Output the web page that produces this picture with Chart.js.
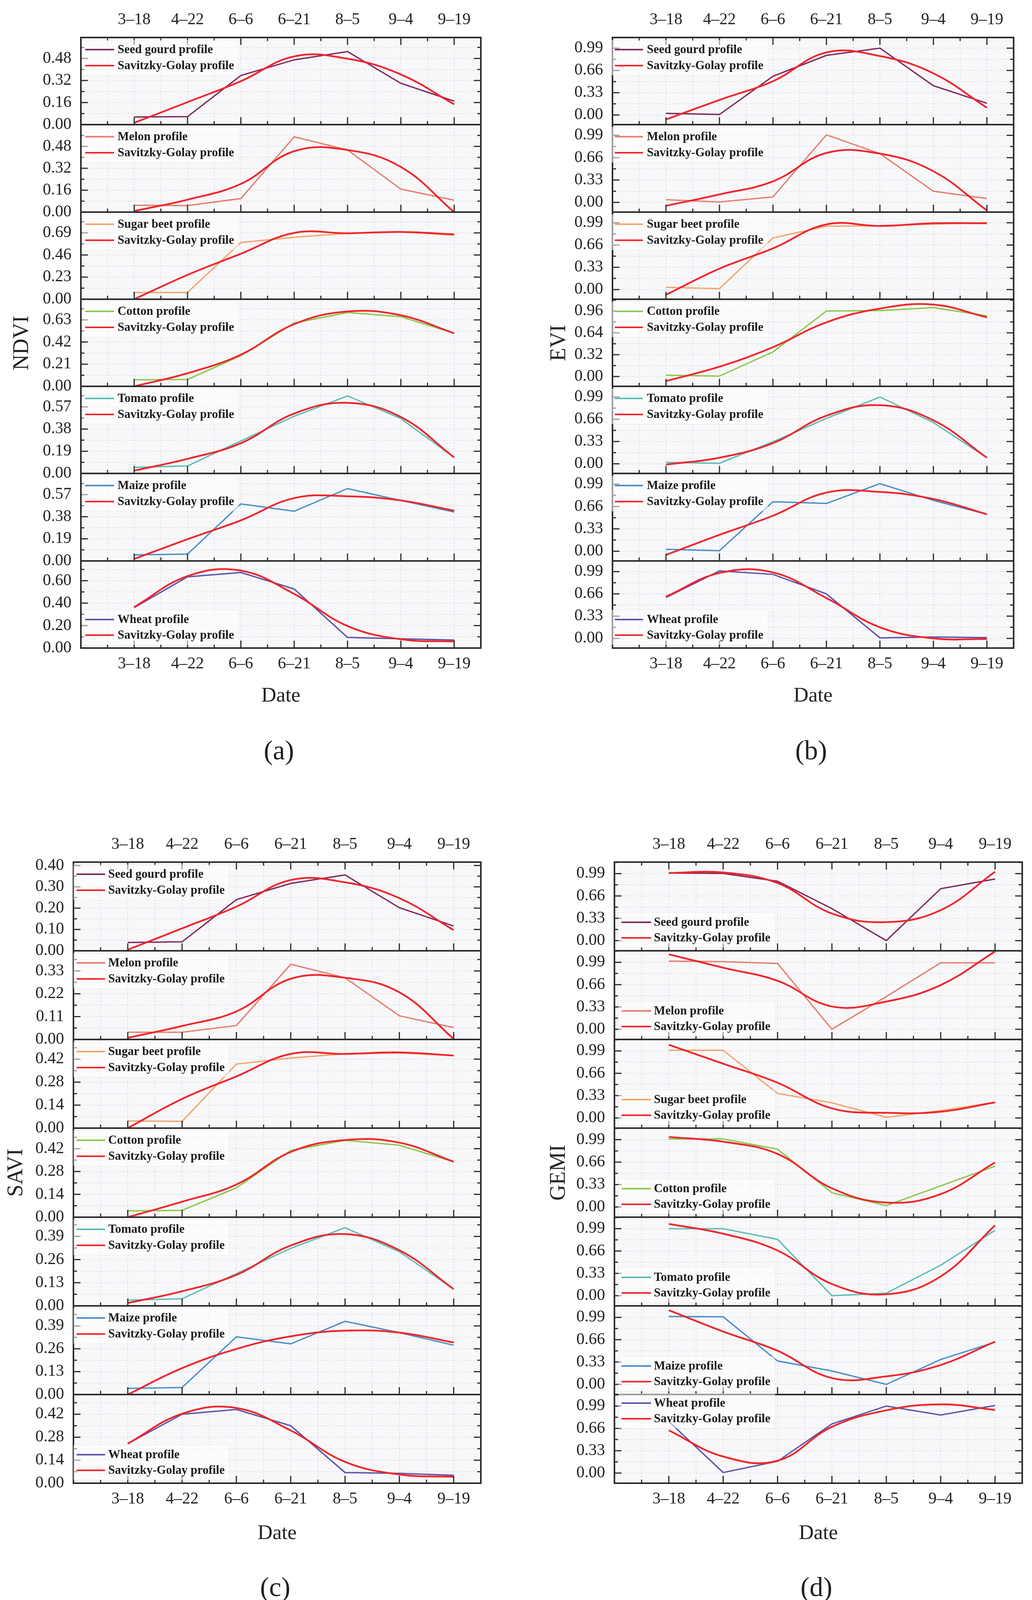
<!DOCTYPE html>
<html>
<head>
<meta charset="utf-8">
<script src="https://cdn.jsdelivr.net/npm/chart.js@4.4.0/dist/chart.umd.min.js"></script>
<style>
  html, body { margin: 0; padding: 0; background: #fff; }
  #page { position: relative; width: 2642px; height: 4128px; overflow: hidden;
          font-family: 'Liberation Serif', 'Times New Roman', serif; color: #222; }
  #page canvas { position: absolute; }
  .lbl { position: absolute; transform: translate(-50%, -50%); line-height: 1; white-space: nowrap; }
  .ytitle { transform: translate(-50%, -50%) rotate(-90deg); }
</style>
</head>
<body>
<div id="page"></div>
<script>
// ---- data ----
const dates = ['3–18', '4–22', '6–6', '6–21', '8–5', '9–4', '9–19'];
const crops = ['Seed gourd', 'Melon', 'Sugar beet', 'Cotton', 'Tomato', 'Maize', 'Wheat'];

const ndviCrop = [
  [0.055, 0.058, 0.356, 0.470, 0.530, 0.300, 0.170],
  [0.050, 0.048, 0.099, 0.550, 0.454, 0.168, 0.087],
  [0.070, 0.070, 0.590, 0.644, 0.686, 0.700, 0.667],
  [0.062, 0.065, 0.290, 0.600, 0.700, 0.660, 0.503],
  [0.052, 0.064, 0.278, 0.490, 0.664, 0.470, 0.137],
  [0.052, 0.059, 0.490, 0.427, 0.622, 0.520, 0.420],
  [0.360, 0.634, 0.673, 0.526, 0.095, 0.083, 0.071]
];
const ndviSG = [
  [0.013, 0.163, 0.315, 0.495, 0.478, 0.364, 0.147],
  [0.008, 0.091, 0.206, 0.445, 0.454, 0.330, 0.000],
  [0.000, 0.253, 0.473, 0.690, 0.686, 0.700, 0.674],
  [0.000, 0.124, 0.300, 0.590, 0.710, 0.674, 0.503],
  [0.024, 0.125, 0.259, 0.513, 0.605, 0.483, 0.137],
  [0.017, 0.187, 0.349, 0.540, 0.556, 0.520, 0.432],
  [0.365, 0.641, 0.690, 0.482, 0.196, 0.078, 0.059]
];
const ndviTicks = [[0, 0.16, 0.32, 0.48], [0, 0.16, 0.32, 0.48], [0, 0.23, 0.46, 0.69],
  [0, 0.21, 0.42, 0.63], [0, 0.19, 0.38, 0.57], [0, 0.19, 0.38, 0.57], [0, 0.2, 0.4, 0.6]];
const ndviRange = [[0, 0.632], [0, 0.639], [0, 0.906], [0, 0.826], [0, 0.746], [0, 0.752], [0, 0.776]];

const eviCrop = [
  [0.023, 0.007, 0.573, 0.883, 0.990, 0.433, 0.173],
  [0.040, 0.007, 0.081, 0.997, 0.720, 0.165, 0.057],
  [0.034, 0.013, 0.765, 0.940, 0.945, 0.970, 0.990],
  [0.019, 0.006, 0.360, 0.960, 0.967, 1.010, 0.890],
  [0.020, 0.008, 0.326, 0.672, 0.990, 0.611, 0.090],
  [0.029, 0.008, 0.730, 0.705, 0.998, 0.750, 0.545],
  [0.606, 1.000, 0.949, 0.660, 0.008, 0.020, 0.012]
];
const eviSG = [
  [-0.067, 0.223, 0.500, 0.927, 0.873, 0.617, 0.107],
  [-0.050, 0.118, 0.310, 0.730, 0.720, 0.460, -0.118],
  [-0.077, 0.310, 0.610, 0.966, 0.943, 0.983, 0.983],
  [-0.067, 0.144, 0.430, 0.795, 0.996, 1.054, 0.868],
  [-0.012, 0.090, 0.306, 0.713, 0.868, 0.644, 0.090],
  [-0.054, 0.243, 0.524, 0.866, 0.875, 0.771, 0.545],
  [0.619, 0.969, 0.978, 0.598, 0.165, 0.000, -0.008]
];
const eviTicks = [[0, 0.33, 0.66, 0.99], [0, 0.33, 0.66, 0.99], [0, 0.33, 0.66, 0.99],
  [0, 0.32, 0.64, 0.96], [0, 0.33, 0.66, 0.99], [0, 0.33, 0.66, 0.99], [0, 0.33, 0.66, 0.99]];
const eviRange = [[-0.143, 1.148], [-0.143, 1.148], [-0.143, 1.148], [-0.144, 1.133],
  [-0.143, 1.148], [-0.143, 1.148], [-0.143, 1.148]];

const saviCrop = [
  [0.039, 0.042, 0.240, 0.316, 0.356, 0.202, 0.116],
  [0.035, 0.035, 0.067, 0.362, 0.297, 0.114, 0.057],
  [0.044, 0.041, 0.390, 0.427, 0.452, 0.458, 0.442],
  [0.039, 0.042, 0.180, 0.409, 0.471, 0.441, 0.340],
  [0.032, 0.040, 0.181, 0.323, 0.439, 0.304, 0.094],
  [0.035, 0.040, 0.328, 0.288, 0.416, 0.352, 0.280],
  [0.241, 0.420, 0.449, 0.350, 0.065, 0.060, 0.048]
];
const saviSG = [
  [0.005, 0.105, 0.207, 0.332, 0.321, 0.247, 0.097],
  [0.008, 0.065, 0.135, 0.292, 0.297, 0.227, 0.003],
  [0.000, 0.178, 0.315, 0.452, 0.452, 0.461, 0.442],
  [0.000, 0.095, 0.200, 0.400, 0.473, 0.457, 0.340],
  [0.016, 0.082, 0.174, 0.339, 0.403, 0.312, 0.094],
  [0.000, 0.150, 0.259, 0.331, 0.363, 0.352, 0.296],
  [0.241, 0.423, 0.458, 0.321, 0.130, 0.053, 0.039]
];
const saviTicks = [[0, 0.1, 0.2, 0.3, 0.4], [0, 0.11, 0.22, 0.33], [0, 0.14, 0.28, 0.42],
  [0, 0.14, 0.28, 0.42], [0, 0.13, 0.26, 0.39], [0, 0.13, 0.26, 0.39], [0, 0.14, 0.28, 0.42]];
const saviRange = [[0, 0.416], [0, 0.427], [0, 0.54], [0, 0.546], [0, 0.498], [0, 0.504], [0, 0.54]];

const gemiCrop = [
  [1.000, 0.993, 0.877, 0.473, 0.000, 0.767, 0.910],
  [1.007, 1.000, 0.973, 0.000, 0.483, 0.983, 0.983],
  [1.000, 1.000, 0.363, 0.224, 0.010, 0.109, 0.231],
  [1.000, 1.000, 0.850, 0.210, 0.020, 0.310, 0.600],
  [0.990, 0.990, 0.833, 0.000, 0.037, 0.450, 0.965],
  [1.003, 0.998, 0.346, 0.198, 0.000, 0.367, 0.624],
  [0.762, 0.008, 0.174, 0.725, 0.990, 0.857, 0.998]
];
const gemiSG = [
  [1.000, 1.007, 0.850, 0.400, 0.273, 0.450, 1.017],
  [1.107, 0.910, 0.717, 0.337, 0.410, 0.653, 1.150],
  [1.082, 0.802, 0.521, 0.142, 0.076, 0.092, 0.231],
  [1.030, 0.960, 0.780, 0.275, 0.065, 0.190, 0.655],
  [1.060, 0.916, 0.668, 0.173, 0.021, 0.285, 1.040],
  [1.096, 0.780, 0.497, 0.093, 0.118, 0.287, 0.632],
  [0.630, 0.244, 0.182, 0.683, 0.927, 1.015, 0.932]
];
const gemiTicks = [[0, 0.33, 0.66, 0.99], [0, 0.33, 0.66, 0.99], [0, 0.33, 0.66, 0.99],
  [0, 0.33, 0.66, 0.99], [0, 0.33, 0.66, 0.99], [0, 0.33, 0.66, 0.99], [0, 0.33, 0.66, 0.99]];
const gemiRange = [[-0.15, 1.16], [-0.15, 1.16], [-0.15, 1.16], [-0.15, 1.16],
  [-0.15, 1.16], [-0.15, 1.16], [-0.15, 1.16]];

// ---- styling ----
const cropColors = ['#7d2c5f', '#e6806e', '#f4a66a', '#8cc84b', '#5dbdb4', '#4b8fc7', '#5b56a8'];
const sgColor = '#f0262b';

const LEFT_M = 220, RIGHT_M = 40, EDGE_M = 110;
const TOP6 = ['top', 'top', 'top', 'top', 'top', 'top', 'bottom'];
const BOT6 = ['bottom', 'bottom', 'bottom', 'bottom', 'bottom', 'bottom', 'top'];

const panels = [
  { name: 'NDVI', tag: '(a)', crop: ndviCrop, sg: ndviSG, ticks: ndviTicks, range: ndviRange,
    left: 207, right: 1231, top: 96, bottom: 1659, titleX: 53, dateY: 1778, tagY: 1921,
    lx: [11, 85, 94], legTop: [31, 72], legAt: TOP6 },
  { name: 'EVI', tag: '(b)', crop: eviCrop, sg: eviSG, ticks: eviTicks, range: eviRange,
    left: 1568, right: 2595, top: 96, bottom: 1659, titleX: 1428, dateY: 1778, tagY: 1921,
    lx: [6, 78, 88], legTop: [31, 72], legAt: TOP6 },
  { name: 'SAVI', tag: '(c)', crop: saviCrop, sg: saviSG, ticks: saviTicks, range: saviRange,
    left: 188, right: 1231, top: 2207, bottom: 3797, titleX: 38, dateY: 3922, tagY: 4063,
    lx: [8, 81, 89], legTop: [31, 72], legAt: TOP6 },
  { name: 'GEMI', tag: '(d)', crop: gemiCrop, sg: gemiSG, ticks: gemiTicks, range: gemiRange,
    left: 1573, right: 2617, top: 2207, bottom: 3797, titleX: 1427, dateY: 3922, tagY: 4063,
    lx: [18, 94, 101], legTop: [22, 62], legAt: BOT6 }
];

// background, dotted grid, frame and inward ticks
const framePlugin = {
  id: 'frame',
  beforeDatasetsDraw(chart, args, o) {
    const { ctx, chartArea: a, scales } = chart;
    const x = scales.x, y = scales.y;
    ctx.save();
    ctx.fillStyle = '#f8f8fb';
    ctx.fillRect(a.left, a.top, a.width, a.height);
    ctx.strokeStyle = '#d9d9de';
    ctx.lineWidth = 1.5;
    ctx.setLineDash([4, 4]);
    x.ticks.forEach(t => {
      [t.value - 0.5, t.value].forEach(v => {
        const px = x.getPixelForValue(v);
        ctx.beginPath(); ctx.moveTo(px, a.top); ctx.lineTo(px, a.bottom); ctx.stroke();
      });
    });
    yMarks(y).forEach(m => {
      const py = y.getPixelForValue(m.v);
      ctx.beginPath(); ctx.moveTo(a.left, py); ctx.lineTo(a.right, py); ctx.stroke();
    });
    ctx.restore();
  },
  afterDatasetsDraw(chart, args, o) {
    const { ctx, chartArea: a, scales } = chart;
    const x = scales.x, y = scales.y;
    ctx.save();
    ctx.strokeStyle = '#2b2b2b';
    ctx.lineWidth = 3;
    const xm = [];
    x.ticks.forEach(t => { xm.push({ v: t.value, major: true }, { v: t.value - 0.5, major: false }); });
    xm.forEach(m => {
      const px = x.getPixelForValue(m.v), len = m.major ? 19 : 9;
      ctx.beginPath(); ctx.moveTo(px, a.bottom); ctx.lineTo(px, a.bottom - len); ctx.stroke();
      if (o.topTicks) {
        ctx.beginPath(); ctx.moveTo(px, a.top); ctx.lineTo(px, a.top + len); ctx.stroke();
      }
    });
    yMarks(y).forEach(m => {
      const py = y.getPixelForValue(m.v), len = m.major ? 18 : 9;
      ctx.beginPath(); ctx.moveTo(a.left, py); ctx.lineTo(a.left + len, py); ctx.stroke();
      ctx.beginPath(); ctx.moveTo(a.right, py); ctx.lineTo(a.right - len, py); ctx.stroke();
    });
    ctx.lineWidth = 4;
    ctx.strokeRect(a.left, a.top, a.width, a.height);
    ctx.restore();
  }
};

function yMarks(y) {
  const vals = y.ticks.map(t => t.value);
  const step = vals[1] - vals[0];
  const out = vals.map(v => ({ v, major: true }));
  vals.forEach(v => { out.push({ v: v + step / 2, major: false }); });
  out.push({ v: vals[0] - step / 2, major: false });
  return out.filter(m => m.v >= y.min - 1e-9 && m.v <= y.max + 1e-9);
}

// legend drawn inside the plot area
const legendPlugin = {
  id: 'inlineLegend',
  afterDatasetsDraw(chart, args, o) {
    const { ctx, chartArea: a } = chart;
    const rows = o.rows.map(r => (r < 0 ? a.bottom + r : a.top + r));
    const sets = chart.data.datasets;
    ctx.save();
    ctx.font = 'bold 31px "Liberation Serif", "Times New Roman", serif';
    const tw = Math.max(...sets.map(d => ctx.measureText(d.label).width));
    const bx = a.left + o.lx[0] - 8, by = rows[0] - 25;
    const bw = o.lx[2] + tw + 12 - o.lx[0] + 8, bh = rows[1] - rows[0] + 50;
    ctx.fillStyle = 'rgba(255,255,255,0.55)';
    ctx.fillRect(bx, by, bw, bh);
    ctx.strokeStyle = 'rgba(0,0,0,0.05)';
    ctx.lineWidth = 1.5;
    ctx.strokeRect(bx, by, bw, bh);
    sets.forEach((d, k) => {
      ctx.strokeStyle = d.borderColor;
      ctx.lineWidth = 4;
      ctx.beginPath();
      ctx.moveTo(a.left + o.lx[0], rows[k]);
      ctx.lineTo(a.left + o.lx[1], rows[k]);
      ctx.stroke();
      ctx.fillStyle = '#1b1b1b';
      ctx.textBaseline = 'middle';
      ctx.fillText(d.label, a.left + o.lx[2], rows[k] + 1);
    });
    ctx.restore();
  }
};

Chart.defaults.font.family = "'Liberation Serif', 'Times New Roman', serif";
Chart.defaults.color = '#222';

const page = document.getElementById('page');

function xAxis(pos, show) {
  return {
    type: 'linear', position: pos, min: -1, max: 6.5,
    afterBuildTicks: ax => { ax.ticks = dates.map((d, k) => ({ value: k })); },
    afterFit: ax => { ax.height = EDGE_M; },
    grid: { display: false, drawTicks: false },
    border: { display: false },
    ticks: {
      display: show, autoSkip: false, maxRotation: 0, minRotation: 0,
      padding: pos === 'top' ? 20 : 16, font: { size: 42 }, color: '#222',
      callback: v => dates[v]
    }
  };
}

function makeChart(p, i) {
  const step = (p.bottom - p.top) / 7;
  const t0 = Math.round(p.top + i * step), t1 = Math.round(p.top + (i + 1) * step);
  const W = p.right - p.left + LEFT_M + RIGHT_M;
  const H = t1 - t0 + 2 * EDGE_M;
  const cv = document.createElement('canvas');
  cv.width = W; cv.height = H;
  cv.style.left = (p.left - LEFT_M) + 'px';
  cv.style.top = (t0 - EDGE_M) + 'px';
  cv.style.width = W + 'px';
  cv.style.height = H + 'px';
  page.appendChild(cv);

  const yt = p.ticks[i];
  const legRows = p.legAt[i] === 'top' ? p.legTop : [-73, -33];

  new Chart(cv, {
    type: 'line',
    data: {
      datasets: [
        {
          label: crops[i] + ' profile',
          data: p.crop[i].map((v, k) => ({ x: k, y: v })),
          borderColor: cropColors[i], borderWidth: 3.5, tension: 0,
          pointRadius: 0, fill: false, order: 1
        },
        {
          label: 'Savitzky-Golay profile',
          data: p.sg[i].map((v, k) => ({ x: k, y: v })),
          borderColor: sgColor, borderWidth: 4.5, tension: 0.4,
          pointRadius: 0, fill: false, order: 0
        }
      ]
    },
    options: {
      responsive: false, animation: false, devicePixelRatio: 1, events: [],
      layout: { padding: { left: 0, right: RIGHT_M, top: 0, bottom: 0 } },
      scales: {
        x: xAxis('bottom', i === 6),
        x2: xAxis('top', i === 0),
        y: {
          type: 'linear', position: 'left', min: p.range[i][0], max: p.range[i][1],
          afterBuildTicks: ax => { ax.ticks = yt.map(v => ({ value: v })); },
          afterFit: ax => { ax.width = LEFT_M; },
          grid: { display: false, drawTicks: false },
          border: { display: false },
          ticks: { autoSkip: false, padding: 24, font: { size: 42 }, color: '#222',
                   callback: v => v.toFixed(2) }
        }
      },
      plugins: {
        legend: { display: false },
        tooltip: { enabled: false },
        frame: { topTicks: i === 0 },
        inlineLegend: { rows: legRows, lx: p.lx }
      }
    },
    plugins: [framePlugin, legendPlugin]
  });
}

function addLabel(text, x, y, size, cls) {
  const d = document.createElement('div');
  d.className = 'lbl' + (cls ? ' ' + cls : '');
  d.textContent = text;
  d.style.left = x + 'px';
  d.style.top = y + 'px';
  d.style.fontSize = size + 'px';
  page.appendChild(d);
}

panels.forEach(p => {
  for (let i = 0; i < 7; i++) makeChart(p, i);
  const cx = (p.left + p.right) / 2;
  addLabel(p.name, p.titleX, (p.top + p.bottom) / 2, 56, 'ytitle');
  addLabel('Date', cx, p.dateY, 53);
  addLabel(p.tag, cx - 5, p.tagY, 70);
});
</script>
</body>
</html>
